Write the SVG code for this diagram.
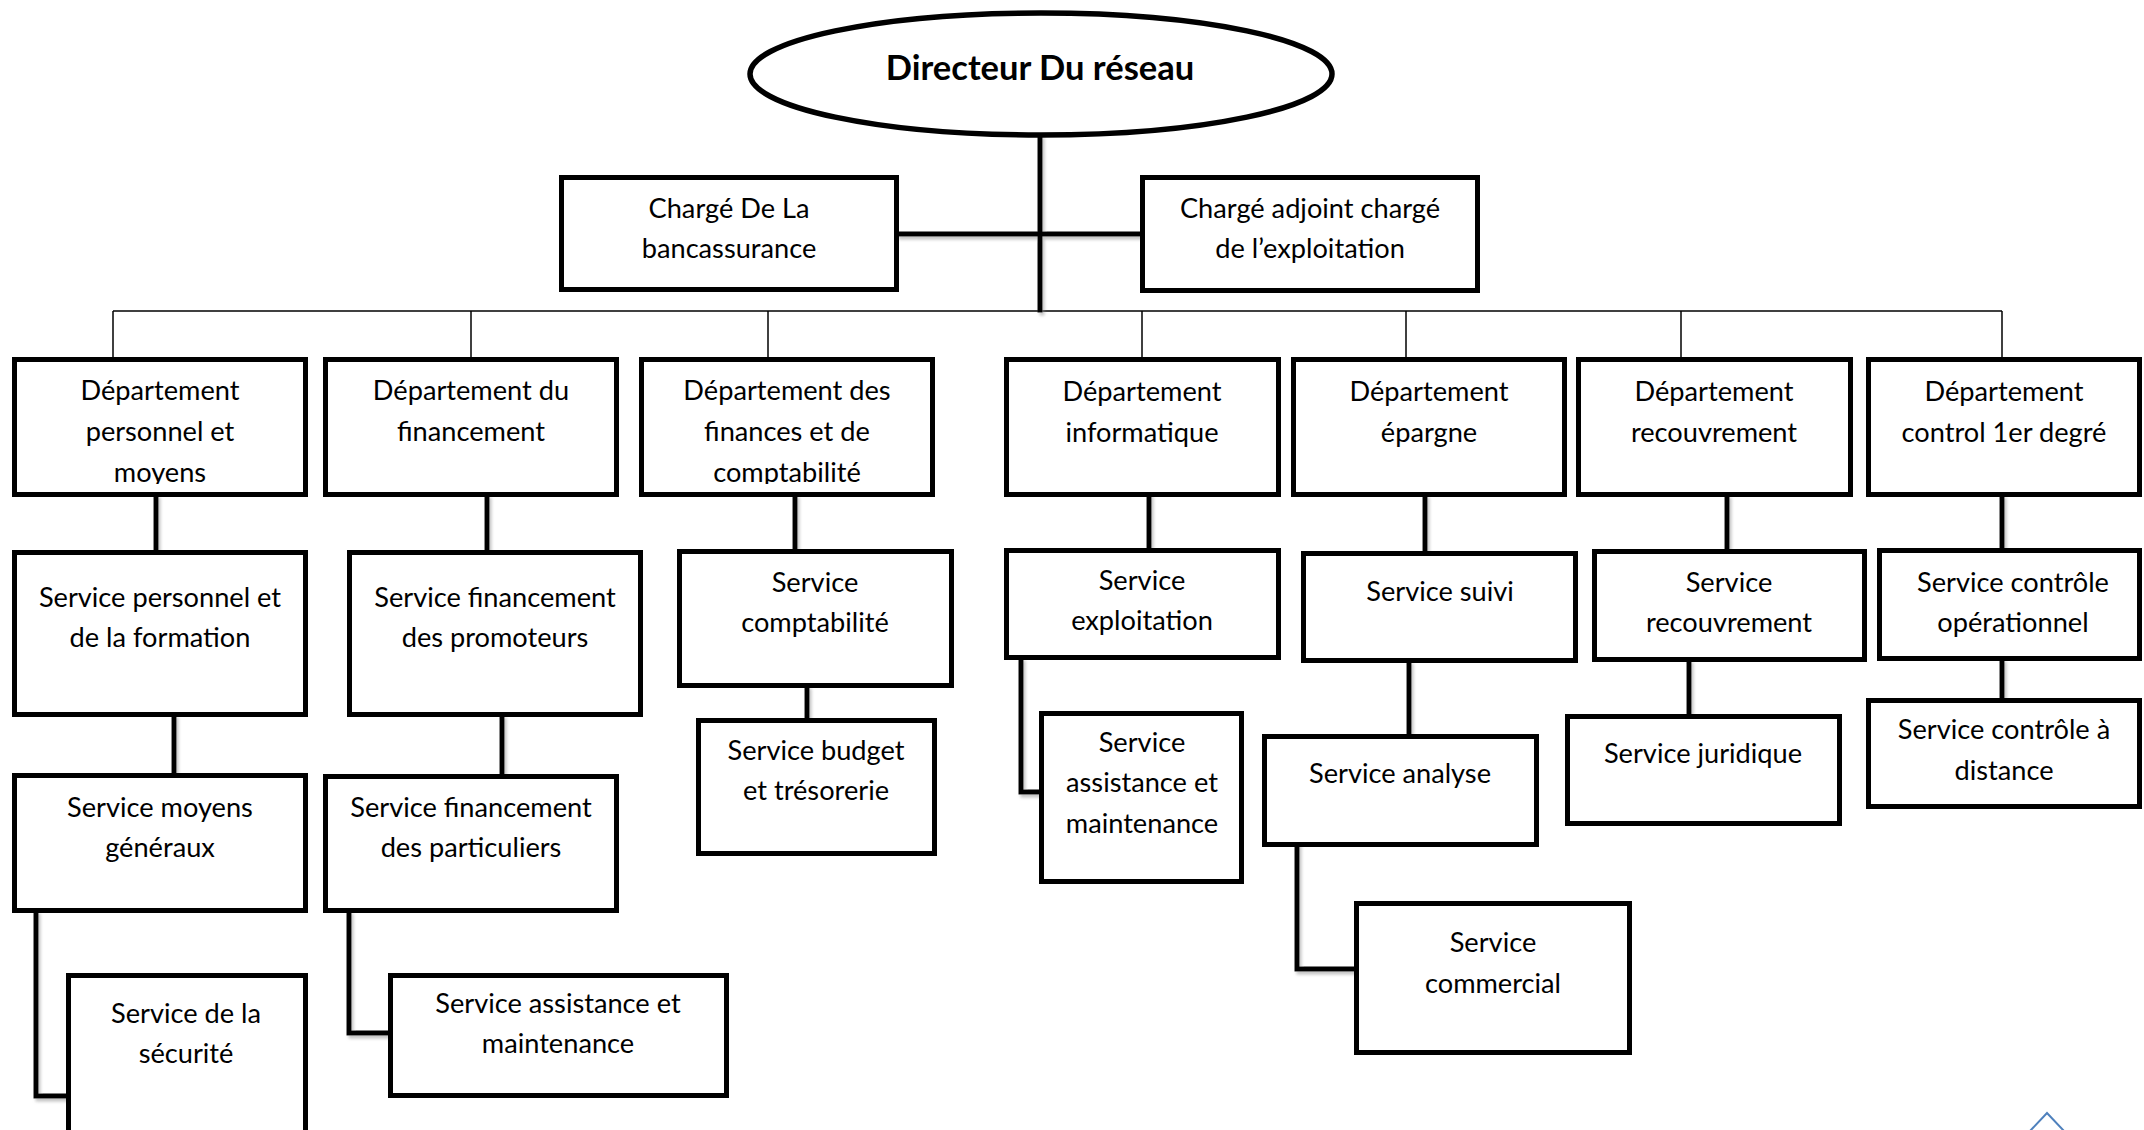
<svg xmlns="http://www.w3.org/2000/svg" width="2144" height="1130" viewBox="0 0 2144 1130">
<style>
.box{fill:#fff;stroke:#000;stroke-width:5}
.t{font-family:Lato,"Liberation Sans",sans-serif;font-size:27.2px;text-anchor:middle;fill:#000}
.tb{font-family:Lato,"Liberation Sans",sans-serif;font-size:34.5px;font-weight:bold;text-anchor:middle;fill:#000}
.thick{stroke:#000;stroke-width:5;fill:none;stroke-linecap:square}
.thin{stroke:#000;stroke-width:1.5;fill:none}
</style>
<defs>
<filter id="sh" x="-20%" y="-20%" width="140%" height="140%">
<feDropShadow dx="2" dy="3" stdDeviation="1.5" flood-color="#888" flood-opacity="0.5"/>
</filter>
<clipPath id="clipD"><rect x="0" y="355" width="2144" height="129"/></clipPath>
</defs>
<rect width="2144" height="1130" fill="#fff"/>
<g id="connectors">
<g class="thin">
<path d="M113,311 H2002"/>
<path d="M113,311 V358"/><path d="M471,311 V358"/><path d="M768,311 V358"/><path d="M1142,311 V358"/><path d="M1406,311 V358"/><path d="M1681,311 V358"/><path d="M2002,311 V358"/>
</g>
<g class="thick" filter="url(#sh)">
<path d="M1040,137 V310"/>
<path d="M899,234 H1140"/>
<path d="M156,497 V550"/><path d="M487,497 V550"/><path d="M795,497 V549"/><path d="M1149,495 V548"/><path d="M1425,497 V551"/><path d="M1727,497 V549"/><path d="M2002,497 V548"/>
<path d="M174,717 V773"/><path d="M502,717 V774"/><path d="M807,688 V718"/>
<path d="M1021,660 V792 H1039"/>
<path d="M1409,663 V734"/>
<path d="M1297,844 V969 H1354"/>
<path d="M1689,662 V714"/>
<path d="M2002,661 V698"/>
<path d="M36,913 V1096 H66"/>
<path d="M349,913 V1033 H388"/>
</g>
</g>
<g id="directeur">
<ellipse cx="1041" cy="74" rx="291" ry="61" fill="#fff" stroke="#000" stroke-width="5.5"/>
<text class="tb" x="1040" y="80">Directeur Du réseau</text>
</g>
<g id="charge-bancassurance">
<rect class="box" x="561.5" y="177.5" width="335" height="112"/>
<text class="t" x="729" y="218">Chargé De La</text>
<text class="t" x="729" y="258">bancassurance</text>
</g>
<g id="charge-adjoint">
<rect class="box" x="1142.5" y="177.5" width="335" height="113"/>
<text class="t" x="1310" y="218">Chargé adjoint chargé</text>
<text class="t" x="1310" y="258">de l’exploitation</text>
</g>
<g id="dep-personnel">
<rect class="box" x="14.5" y="359.5" width="291" height="135"/>
<g clip-path="url(#clipD)">
<text class="t" x="160" y="400">Département</text>
<text class="t" x="160" y="441">personnel et</text>
<text class="t" x="160" y="482">moyens</text>
</g>
</g>
<g id="dep-financement">
<rect class="box" x="325.5" y="359.5" width="291" height="135"/>
<text class="t" x="471" y="400">Département du</text>
<text class="t" x="471" y="441">financement</text>
</g>
<g id="dep-finances">
<rect class="box" x="641.5" y="359.5" width="291" height="135"/>
<g clip-path="url(#clipD)">
<text class="t" x="787" y="400">Département des</text>
<text class="t" x="787" y="441">finances et de</text>
<text class="t" x="787" y="482">comptabilité</text>
</g>
</g>
<g id="dep-informatique">
<rect class="box" x="1006.5" y="359.5" width="272" height="135"/>
<text class="t" x="1142" y="401">Département</text>
<text class="t" x="1142" y="442">informatique</text>
</g>
<g id="dep-epargne">
<rect class="box" x="1293.5" y="359.5" width="271" height="135"/>
<text class="t" x="1429" y="401">Département</text>
<text class="t" x="1429" y="442">épargne</text>
</g>
<g id="dep-recouvrement">
<rect class="box" x="1578.5" y="359.5" width="272" height="135"/>
<text class="t" x="1714" y="401">Département</text>
<text class="t" x="1714" y="442">recouvrement</text>
</g>
<g id="dep-control">
<rect class="box" x="1868.5" y="359.5" width="271" height="135"/>
<text class="t" x="2004" y="401">Département</text>
<text class="t" x="2004" y="442">control 1er degré</text>
</g>
<g id="srv-personnel">
<rect class="box" x="14.5" y="552.5" width="291" height="162"/>
<text class="t" x="160" y="607">Service personnel et</text>
<text class="t" x="160" y="647">de la formation</text>
</g>
<g id="srv-promoteurs">
<rect class="box" x="349.5" y="552.5" width="291" height="162"/>
<text class="t" x="495" y="607">Service financement</text>
<text class="t" x="495" y="647">des promoteurs</text>
</g>
<g id="srv-comptabilite">
<rect class="box" x="679.5" y="551.5" width="272" height="134"/>
<text class="t" x="815" y="592">Service</text>
<text class="t" x="815" y="632">comptabilité</text>
</g>
<g id="srv-exploitation">
<rect class="box" x="1006.5" y="550.5" width="272" height="107"/>
<text class="t" x="1142" y="590">Service</text>
<text class="t" x="1142" y="630">exploitation</text>
</g>
<g id="srv-suivi">
<rect class="box" x="1303.5" y="553.5" width="272" height="107"/>
<text class="t" x="1440" y="601">Service suivi</text>
</g>
<g id="srv-recouvrement">
<rect class="box" x="1594.5" y="551.5" width="270" height="108"/>
<text class="t" x="1729" y="592">Service</text>
<text class="t" x="1729" y="632">recouvrement</text>
</g>
<g id="srv-controle-op">
<rect class="box" x="1879.5" y="550.5" width="260" height="108"/>
<text class="t" x="2013" y="592">Service contrôle</text>
<text class="t" x="2013" y="632">opérationnel</text>
</g>
<g id="srv-moyens">
<rect class="box" x="14.5" y="775.5" width="291" height="135"/>
<text class="t" x="160" y="817">Service moyens</text>
<text class="t" x="160" y="857">généraux</text>
</g>
<g id="srv-particuliers">
<rect class="box" x="325.5" y="776.5" width="291" height="134"/>
<text class="t" x="471" y="817">Service financement</text>
<text class="t" x="471" y="857">des particuliers</text>
</g>
<g id="srv-budget">
<rect class="box" x="698.5" y="720.5" width="236" height="133"/>
<text class="t" x="816" y="760">Service budget</text>
<text class="t" x="816" y="800">et trésorerie</text>
</g>
<g id="srv-assistance-info">
<rect class="box" x="1041.5" y="713.5" width="200" height="168"/>
<text class="t" x="1142" y="752">Service</text>
<text class="t" x="1142" y="792">assistance et</text>
<text class="t" x="1142" y="833">maintenance</text>
</g>
<g id="srv-analyse">
<rect class="box" x="1264.5" y="736.5" width="272" height="108"/>
<text class="t" x="1400" y="783">Service analyse</text>
</g>
<g id="srv-juridique">
<rect class="box" x="1567.5" y="716.5" width="272" height="107"/>
<text class="t" x="1703" y="763">Service juridique</text>
</g>
<g id="srv-distance">
<rect class="box" x="1868.5" y="700.5" width="271" height="106"/>
<text class="t" x="2004" y="739">Service contrôle à</text>
<text class="t" x="2004" y="780">distance</text>
</g>
<g id="srv-securite">
<rect class="box" x="68.5" y="975.5" width="237" height="170"/>
<text class="t" x="186" y="1023">Service de la</text>
<text class="t" x="186" y="1063">sécurité</text>
</g>
<g id="srv-assistance-fin">
<rect class="box" x="390.5" y="975.5" width="336" height="120"/>
<text class="t" x="558" y="1013">Service assistance et</text>
<text class="t" x="558" y="1053">maintenance</text>
</g>
<g id="srv-commercial">
<rect class="box" x="1356.5" y="903.5" width="273" height="149"/>
<text class="t" x="1493" y="952">Service</text>
<text class="t" x="1493" y="993">commercial</text>
</g>
<path d="M2030,1131 L2047,1113 L2064,1131" fill="none" stroke="#4f81bd" stroke-width="2"/>
</svg>
